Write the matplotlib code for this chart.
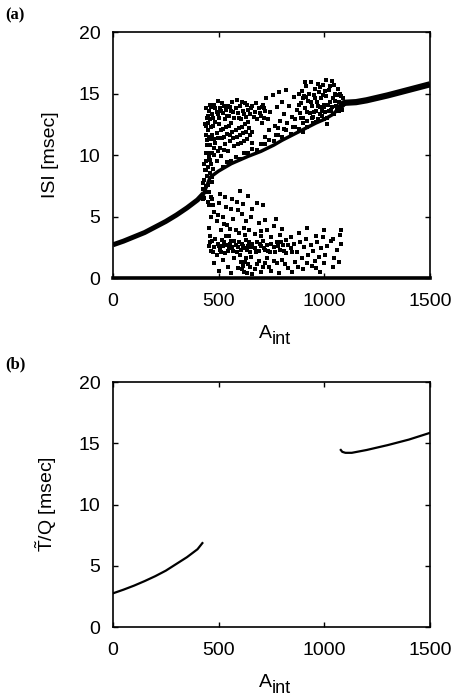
import matplotlib
matplotlib.use('Agg')
import matplotlib.pyplot as plt

plt.rcParams['font.family'] = ['Liberation Sans', 'DejaVu Sans']
plt.rcParams['mathtext.fontset'] = 'custom'
plt.rcParams['mathtext.rm'] = 'Liberation Sans'
plt.rcParams['mathtext.it'] = 'Liberation Sans:italic'

### x axis ticks (A_int) and y axis ticks (msec)
xticks = [0, 500, 1000, 1500]
yticks = [0, 5, 10, 15, 20]

### smooth branches of T/Q
low_x = [0, 50, 100, 150, 200, 250, 300, 350, 400, 423]
low_y = [2.75, 3.05, 3.38, 3.75, 4.15, 4.6, 5.15, 5.7, 6.35, 6.85]
high_x = [1078, 1085, 1100, 1130, 1200, 1300, 1400, 1500]
high_y = [14.45, 14.3, 14.22, 14.22, 14.45, 14.85, 15.3, 15.85]

### ISI branches in panel (a)
isi_low_x = [0, 50, 100, 150, 200, 250, 300, 350, 400, 430]
isi_low_y = [2.7, 3.0, 3.35, 3.7, 4.15, 4.6, 5.12, 5.7, 6.35, 6.9]
isi_high_x = [1075, 1090, 1100, 1150, 1200, 1300, 1400, 1500]
isi_high_y = [13.9, 14.2, 14.25, 14.3, 14.45, 14.85, 15.3, 15.75]
isi_diag_x = [430, 460, 500, 560, 600, 640, 700, 760, 800, 880, 960, 1000, 1040, 1075]
isi_diag_y = [6.9, 8.2, 8.7, 9.3, 9.6, 9.9, 10.3, 10.8, 11.2, 11.9, 12.6, 12.9, 13.3, 13.9]
zero_x = [0, 1500]
zero_y = [0, 0]

### scattered ISI values in the irregular window
upper_band = [(455,13.6),(465,13.9),(470,13.3),(480,14.1),(490,13.5),(500,13.0),(505,13.8),(515,14.2),
              (520,13.4),(530,12.9),(535,13.7),(545,14.0),(550,13.2),(560,13.6),(565,14.3),(575,13.0),
              (580,13.8),(590,13.4),(600,14.0),(605,12.9),(615,13.6),(625,14.2),(630,13.1),(640,13.7),
              (650,13.3),(660,14.0),(670,13.5),(680,12.9),(690,13.8),(700,13.2),(710,14.1),(720,13.6),
              (460,12.9),(495,14.4),(585,14.5),(640,12.7),
              (450,13.2),(458,14.1),(475,13.0),(485,13.8),(498,13.3),(510,13.6),(525,14.0),(540,13.2),
              (555,13.9),(570,13.5),(595,13.0),(610,14.3),(620,13.3),(635,14.1),(655,13.8),(665,13.1),
              (675,14.2),(695,13.4),(705,13.9),(715,13.0),(450,12.6),(485,12.7)]
mid_band = [(445,11.2),(450,12.0),(460,10.8),(468,11.6),(475,12.4),(485,11.0),(490,11.8),(500,12.5),
            (505,10.6),(515,11.4),(520,12.1),(530,10.9),(540,11.7),(548,12.4),(555,11.1),(565,11.9),
            (575,10.7),(585,11.5),(595,12.2),(605,11.0),(615,11.8),(625,12.5),(635,11.3),(470,10.2),
            (510,9.9),(545,10.3),(490,9.5),(455,9.8),
            (440,12.4),(452,11.5),(462,12.3),(478,11.3),(495,11.4),(498,10.3),(512,12.0),(525,11.5),
            (535,12.3),(552,11.6),(560,12.6),(570,11.4),(580,12.0),(590,10.9),(600,11.6),(610,12.3),
            (620,11.1),(630,11.9),(642,12.2),(650,11.6),(660,11.9),(480,10.6),(525,10.4)]
left_stripe = [(425,7.2),(430,8.0),(435,8.8),(440,9.5),(432,6.5),(440,7.5),(445,8.3),(450,9.0),
               (438,10.2),(455,7.0),(460,8.5),(448,6.2),(465,9.3),(470,7.8),(430,9.3),(445,10.8),
               (475,8.9),(480,10.0),
               (428,7.7),(436,7.0),(442,8.8),(450,7.6),(452,10.2),(458,9.6),(462,11.3),(440,11.6),
               (435,12.5),(445,13.0),(440,13.8),(468,8.2),(425,6.4),(455,5.9),(462,6.6)]
diag_band = [(520,9.0),(560,9.5),(600,9.7),(640,10.2),(680,10.4),(720,10.9),(760,11.1),(800,11.5),
             (840,11.7),(880,12.1),(920,12.3),(960,12.7),(1000,12.9),(1040,13.3),(1070,13.6),
             (540,9.4),(580,9.8),(620,10.2),(660,10.5),(700,10.9),(740,11.2),(780,11.6),(820,12.0),
             (860,12.3),(900,12.6),(940,13.0),(980,13.3),(1020,13.6),(1060,13.9),(660,11.0),
             (720,11.5),(780,12.2),(900,11.9)]
mid_right = [(705,12.6),(715,13.8),(725,14.6),(735,12.9),(745,13.5),(755,14.9),(765,12.4),(775,13.9),
             (785,15.1),(790,12.8),(800,14.3),(810,13.3),(820,15.3),(825,12.6),(835,14.0),(845,13.1),
             (855,14.7),(860,12.9),(870,13.7),(880,15.0),(740,12.0),(770,11.6),(810,12.1),(850,12.3)]
upper_right = [(885,13.4),(890,14.2),(895,15.2),(900,13.0),(905,14.8),(910,13.8),(915,15.6),(920,12.8),
               (925,14.4),(930,13.4),(935,15.9),(940,14.0),(945,13.1),(950,14.9),(955,15.4),(960,13.6),
               (965,14.3),(970,12.9),(975,15.1),(980,13.9),(985,14.6),(990,13.2),(995,15.7),(1000,14.1),
               (1005,13.5),(1010,14.8),(1015,13.0),(1020,15.3),(1025,14.3),(1030,13.7),(1035,16.0),
               (1040,14.6),(1045,13.3),(1050,15.0),(1055,14.0),(1060,13.6),(1065,15.4),(1070,14.3),
               (1075,13.9),(1080,14.8),(1085,14.1),(1090,14.6),(912,14.7),(968,15.8),(1002,15.2),
               (1048,15.7),(948,12.6),(1012,12.5),
               (880,14.1),(890,13.0),(898,14.6),(908,15.9),(918,13.5),(928,15.0),(938,14.3),(952,13.5),
               (958,14.6),(972,14.0),(978,15.5),(988,13.6),(992,14.9),(998,13.9),(1008,16.1),(1018,14.1),
               (1028,15.6),(1038,13.9),(1052,14.4),(1062,14.9),(1072,15.0),(1082,13.7)]
lower_scatter = [(470,6.4),(480,5.4),(490,4.6),(500,6.1),(510,3.9),(520,5.0),(530,6.6),(540,4.3),
                 (550,3.4),(560,5.6),(570,4.8),(585,6.2),(595,3.7),(610,5.2),(620,4.1),(640,6.7),
                 (655,5.0),(670,3.6),(690,4.5),(710,5.9),(730,3.9),(750,3.3),(770,4.8),(790,3.5),
                 (820,3.1),(455,4.1),(465,5.0),(600,7.1),(680,6.1),
                 (475,5.9),(495,5.1),(505,6.8),(525,4.4),(535,5.8),(555,4.0),(565,6.4),(580,3.9),
                 (590,5.5),(615,6.0),(630,4.6),(645,3.9),(660,5.6),(700,3.8),(720,4.7),(760,4.2),
                 (800,4.0),(840,3.3),(880,3.7),(920,4.1),(960,3.4),(1000,3.9),(1040,3.2),(1080,3.9)]
lower_band = [(455,2.6),(465,2.2),(470,3.0),(480,2.5),(490,1.9),(495,2.8),(505,2.3),(515,3.1),
              (520,2.6),(530,2.0),(540,2.7),(550,2.4),(560,3.0),(570,2.2),(580,2.7),(590,2.5),
              (600,1.9),(610,2.8),(620,2.4),(630,3.1),(640,2.6),(650,2.1),(660,2.8),(670,2.4),
              (680,2.9),(690,2.2),(700,2.6),(710,3.0),(720,2.3),(730,2.7),(745,2.1),(760,2.5),
              (775,2.9),(790,2.3),(805,2.7),(820,2.0),(840,2.4),(855,2.8),(460,3.4),(535,3.4),
              (625,3.5),(700,3.4),
              (458,2.9),(475,2.1),(485,3.2),(500,2.6),(510,2.1),(525,2.9),(545,2.2),(555,2.8),
              (565,2.5),(575,3.0),(585,2.1),(595,2.9),(605,2.3),(615,2.6),(635,2.3),(645,2.9),
              (655,2.5),(675,2.1),(695,2.8),(715,2.4),(735,2.2),(750,2.8),(765,2.1),(780,2.6),
              (795,2.9),(810,2.2),(830,2.7),(848,2.1)]
lower_right = [(870,2.1),(885,2.9),(895,1.6),(905,2.5),(915,3.2),(925,1.9),(935,2.7),(945,2.2),
               (955,1.4),(965,2.9),(975,1.7),(985,2.4),(995,3.3),(1005,1.9),(1015,2.6),(1030,3.0),
               (1045,1.6),(1060,2.3),(1075,3.5),(1080,2.8),(1070,1.3)]
bottom = [(480,1.2),(500,0.6),(520,1.5),(545,0.9),(560,0.4),(575,1.6),(590,0.8),(605,1.3),
          (620,0.5),(640,1.1),(655,1.7),(670,0.7),(690,1.4),(710,0.9),(730,1.6),(750,0.6),
          (775,1.2),(800,1.5),(830,0.8),(860,1.3),(900,0.7),(940,1.0),(980,0.5),(600,1.9),
          (630,1.6),(660,0.3),
          (610,0.7),(615,1.0),(625,1.3),(635,0.4),(650,0.9),(680,1.1),(700,0.5),(720,1.2),
          (740,0.9),(760,1.4),(785,0.4),(815,1.1),(845,0.5),(875,0.9),(920,1.2),(960,0.8),
          (1000,1.2),(1040,0.9)]

clouds = [upper_band, mid_band, left_stripe, diag_band, mid_right, upper_right,
          lower_scatter, lower_band, lower_right, bottom]

fig = plt.figure(figsize=(4.53, 6.98), dpi=100)
ax1 = fig.add_axes([0.2494, 0.6017, 0.6998, 0.3524])
ax2 = fig.add_axes([0.2494, 0.1017, 0.6998, 0.3510])


def style(ax):
	ax.set_xlim(0, 1500)
	ax.set_ylim(0, 20)
	ax.set_xticks(xticks)
	ax.set_yticks(yticks)
	ax.tick_params(direction='in', top=True, right=True, length=3.5, width=1,
				   labelsize=14, pad=9)
	ax.tick_params(axis='x', pad=11)
	for s in ax.spines.values():
		s.set_linewidth(1.2)
	# A_int label, subscript nearly full size
	ax.text(0.5, -0.245, 'A', transform=ax.transAxes, fontsize=14, ha='right', va='baseline')
	ax.text(0.5, -0.27, 'int', transform=ax.transAxes, fontsize=13, ha='left', va='baseline')


style(ax1)
ax1.plot(isi_low_x, isi_low_y, color='black', lw=3.6, solid_capstyle='butt')
ax1.plot(isi_high_x, isi_high_y, color='black', lw=4.5, solid_capstyle='butt')
ax1.plot(isi_diag_x, isi_diag_y, color='black', lw=2.5, solid_capstyle='butt')
ax1.plot(zero_x, zero_y, color='black', lw=2.6, clip_on=False)
for c in clouds:
	ax1.plot([p[0] for p in c], [p[1] for p in c], 's', color='black', ms=3.3, mew=0)
ax1.set_ylabel('ISI [msec]', fontsize=14, labelpad=14)

style(ax2)
ax2.plot(low_x, low_y, color='black', lw=1.6)
ax2.plot(high_x, high_y, color='black', lw=1.6)
ax2.set_ylabel(r'$\tilde{\mathrm{T}}$/Q [msec]', fontsize=14, labelpad=14)

fig.text(0.011, 0.978, '(a)', fontsize=12, fontweight='bold', family='Liberation Serif', va='center')
fig.text(0.011, 0.478, '(b)', fontsize=12, fontweight='bold', family='Liberation Serif', va='center')

plt.savefig('out.png', dpi=100)
